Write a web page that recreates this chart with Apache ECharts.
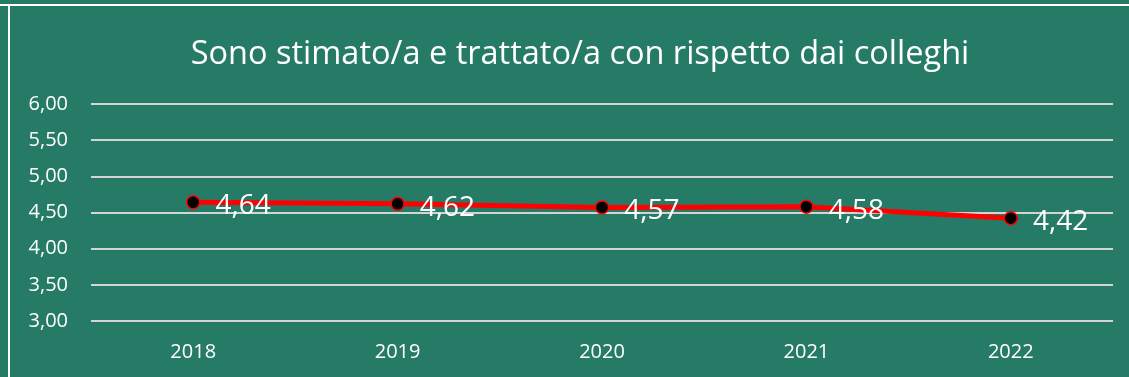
<!DOCTYPE html>
<html>
<head>
<meta charset="utf-8">
<script src="https://cdn.jsdelivr.net/npm/echarts@6/dist/echarts.min.js"></script>
<style>
  html, body { margin: 0; padding: 0; background: #267b66; }
  #chart { width: 1129px; height: 377px; }
</style>
</head>
<body>
<div id="chart"></div>
<script>
const titleText = 'Sono stimato/a e trattato/a con rispetto dai colleghi';
const years = ['2018', '2019', '2020', '2021', '2022'];
const scores = [4.64, 4.62, 4.57, 4.58, 4.42];
const yTicks = { min: 3, max: 6, step: 0.5 };

const fmt = v => Number(v).toFixed(2).replace('.', ',');
const font = "'Open Sans', 'Noto Sans', sans-serif";

const chart = echarts.init(document.getElementById('chart'), null, { renderer: 'canvas' });
chart.setOption({
  backgroundColor: '#267b66',
  animation: false,
  title: {
    text: titleText,
    left: 575,
    textAlign: 'center',
    top: 33,
    textStyle: { color: '#ffffff', fontFamily: font, fontSize: 32.5, fontWeight: 'normal' }
  },
  graphic: [
    { type: 'line', shape: { x1: 0, y1: 5, x2: 1129, y2: 5 }, style: { stroke: '#ffffff', lineWidth: 2 } },
    { type: 'line', shape: { x1: 9, y1: 5, x2: 9, y2: 377 }, style: { stroke: '#ffffff', lineWidth: 2 } }
  ],
  grid: { left: 91, right: 16, top: 104, bottom: 56, containLabel: false },
  xAxis: {
    type: 'category',
    data: years,
    boundaryGap: true,
    axisLine: { show: false },
    axisTick: { show: false },
    axisLabel: { color: '#ffffff', fontFamily: font, fontSize: 20, margin: 21 }
  },
  yAxis: {
    type: 'value',
    min: yTicks.min,
    max: yTicks.max,
    interval: yTicks.step,
    axisLine: { show: false },
    axisTick: { show: false },
    axisLabel: { color: '#ffffff', fontFamily: font, fontSize: 20, margin: 23, formatter: fmt },
    splitLine: { lineStyle: { color: '#d4d4d4', width: 2 } }
  },
  series: [{
    type: 'line',
    data: scores,
    symbol: 'circle',
    symbolSize: 13,
    lineStyle: { color: '#ff0000', width: 5 },
    itemStyle: { color: '#000000', borderColor: '#ff0000', borderWidth: 1.5 },
    label: {
      show: true,
      position: 'right',
      distance: 15,
      offset: [0, 4],
      color: '#ffffff',
      fontFamily: font,
      fontSize: 28,
      formatter: p => fmt(p.value)
    }
  }]
});
</script>
</body>
</html>
